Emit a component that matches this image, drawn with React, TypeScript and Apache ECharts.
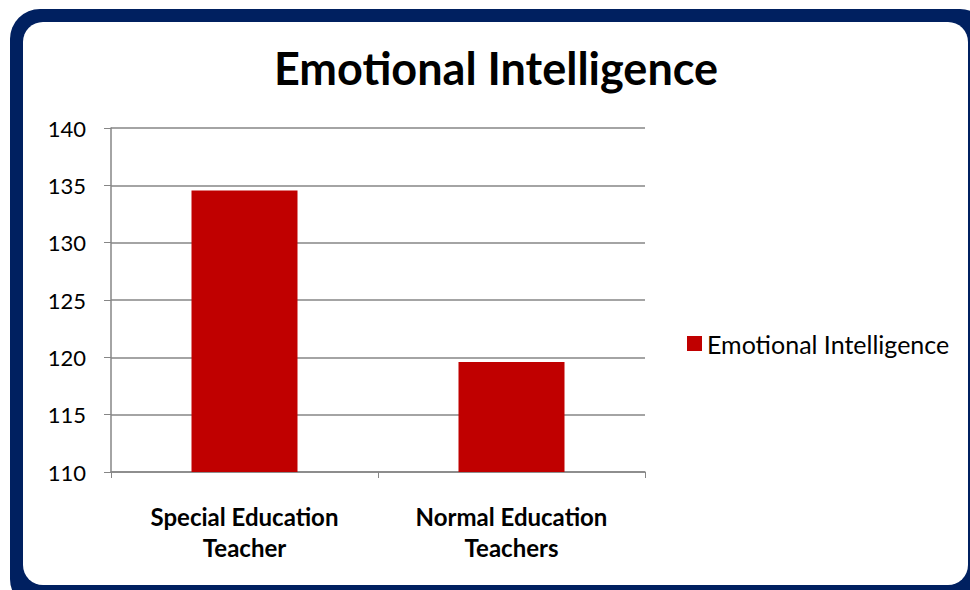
import React, { useEffect, useRef } from "react";
import * as echarts from "echarts";

const categories = ["Special Education\nTeacher", "Normal Education\nTeachers"];
const seriesName = "Emotional Intelligence";
const values = [134.55, 119.6];
const titleText = "Emotional Intelligence";

export default function App() {
  const ref = useRef<HTMLDivElement>(null);
  useEffect(() => {
    const chart = echarts.init(ref.current!, null, { renderer: "svg" });
    const font = "Lato, 'Open Sans', sans-serif";
    chart.setOption({
      animation: false,
      backgroundColor: "#ffffff",
      graphic: [
        {
          type: "rect",
          z: -10,
          shape: { x: 10, y: 9, width: 980, height: 600, r: 30 },
          style: { fill: "#002060" },
        },
        {
          type: "rect",
          z: -9,
          shape: { x: 23, y: 22, width: 945, height: 563, r: 20 },
          style: { fill: "#ffffff" },
        },
      ],
      title: {
        text: titleText,
        left: 491,
        textAlign: "center",
        top: 40,
        textStyle: { fontFamily: font, fontSize: 45, fontWeight: "bold", color: "#000" },
      },
      legend: {
        left: 682,
        top: 326,
        itemWidth: 15,
        itemHeight: 15,
        itemGap: 6,
        icon: "rect",
        textStyle: { fontFamily: font, fontSize: 25, color: "#000" },
        data: [seriesName],
      },
      grid: { left: 111, right: 325, top: 128, height: 344 },
      xAxis: {
        type: "category",
        data: categories,
        axisLine: { lineStyle: { color: "#868686", width: 1.5 } },
        axisTick: { show: true, length: 6, alignWithLabel: false, lineStyle: { color: "#868686" } },
        axisLabel: {
          fontFamily: font,
          fontSize: 24,
          fontWeight: "bold",
          color: "#000",
          lineHeight: 31,
          margin: 29,
        },
      },
      yAxis: {
        type: "value",
        min: 110,
        max: 140,
        interval: 5,
        axisLine: { show: true, lineStyle: { color: "#868686", width: 1.5 } },
        axisTick: { show: true, length: 7, lineStyle: { color: "#868686" } },
        splitLine: { lineStyle: { color: "#868686", width: 1.5 } },
        axisLabel: { fontFamily: font, fontSize: 22, color: "#000", margin: 25 },
      },
      series: [
        {
          name: seriesName,
          type: "bar",
          data: values,
          barWidth: 106,
          itemStyle: { color: "#C00000" },
        },
      ],
    });
    return () => chart.dispose();
  }, []);
  return (
    <div
      ref={ref}
      style={{ position: "fixed", left: 0, top: 0, width: 970, height: 590 }}
    />
  );
}
